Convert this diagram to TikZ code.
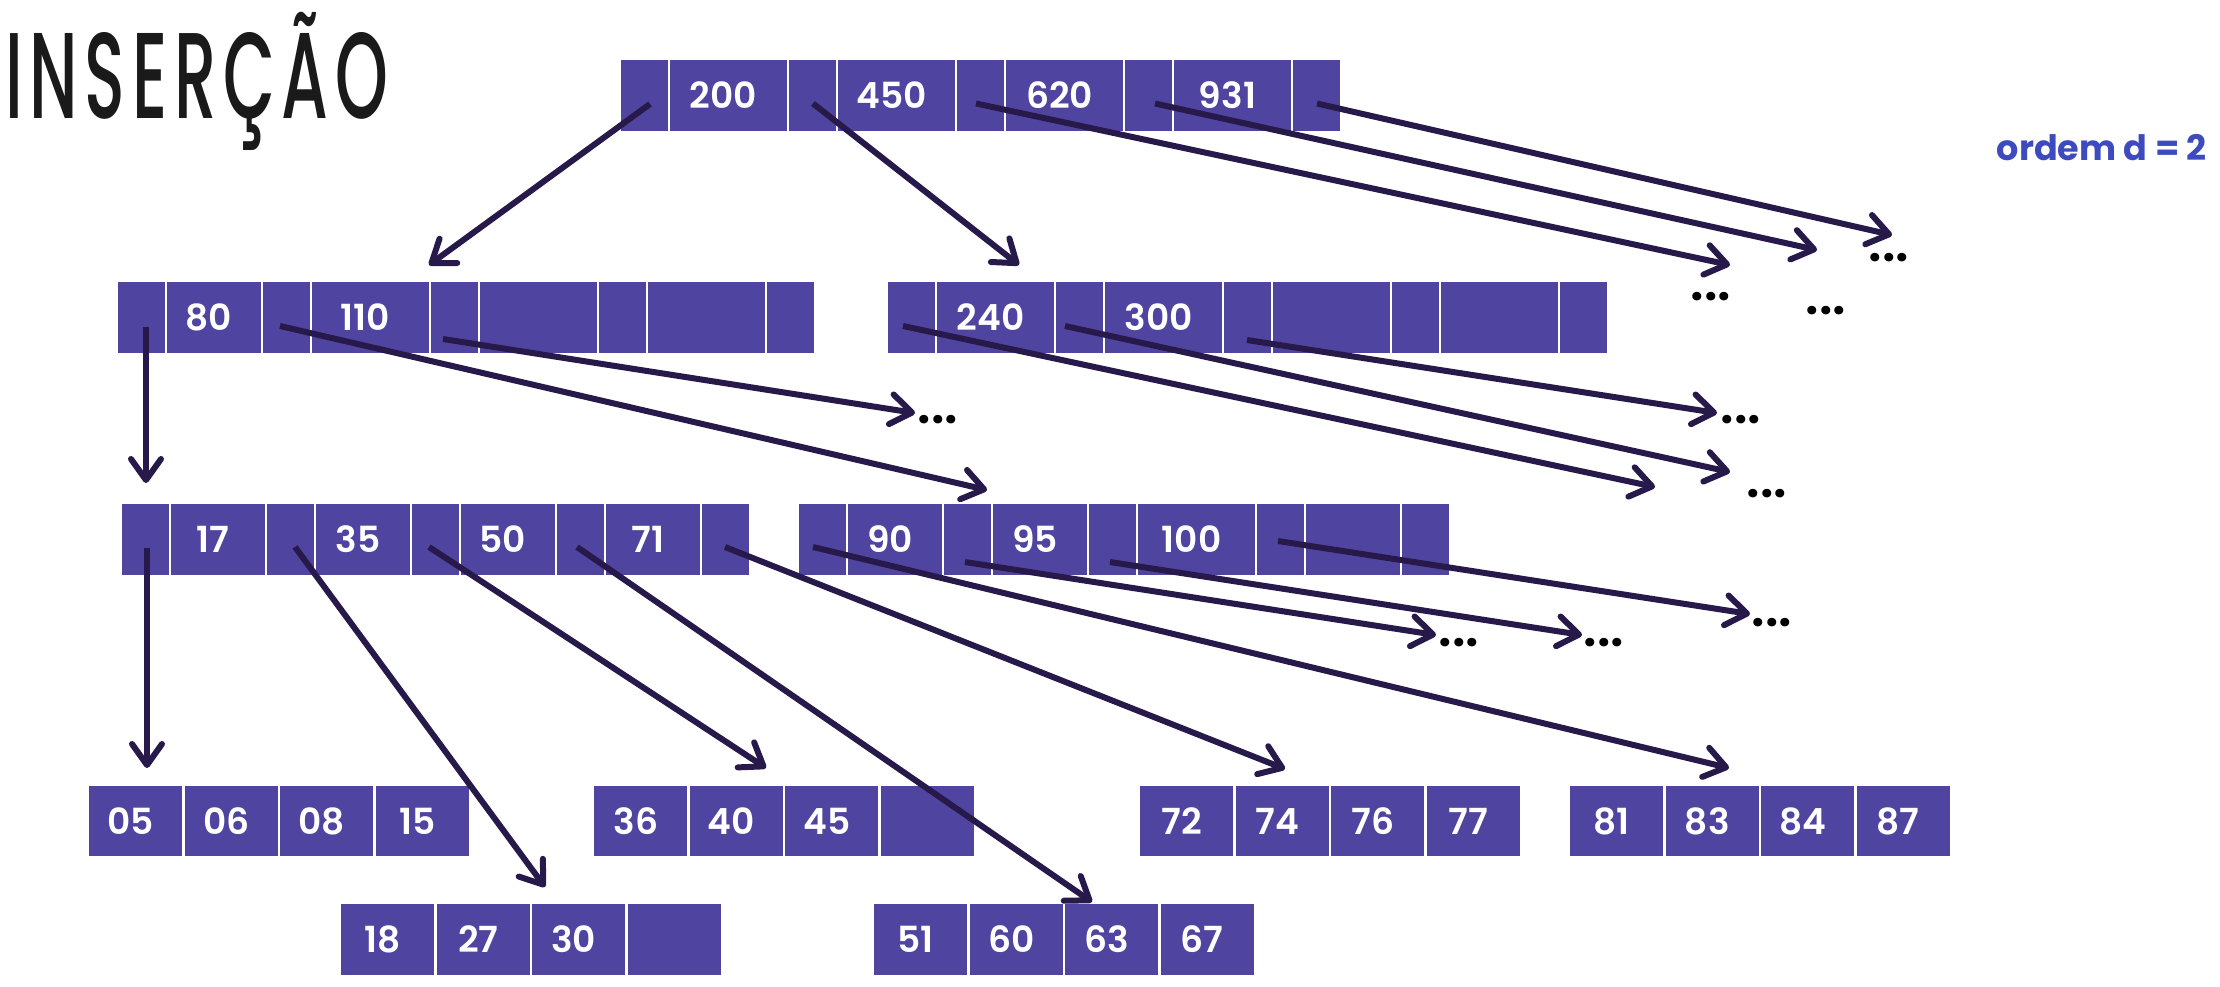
\documentclass[tikz,border=0pt]{standalone}
\usepackage{fontspec}
\usepackage{graphicx}
\usetikzlibrary{arrows.meta,calc}
\newfontfamily\numfont{Poppins SemiBold}
\newfontfamily\boldfont{Poppins Bold}
\newfontfamily\titlefont[LetterSpace=10]{Poppins Medium}
\definecolor{cellc}{RGB}{79,69,160}
\definecolor{arrc}{RGB}{40,25,75}
\definecolor{ordc}{RGB}{62,75,190}
\definecolor{titc}{RGB}{26,26,26}
\tikzset{
  cellbase/.style={draw=white, line width=2.5pt, fill=cellc, minimum height=73pt, inner sep=0pt, outer sep=0pt, anchor=west, text=white, font=\numfont\fontsize{36}{36}\selectfont},
  ptr/.style={cellbase, minimum width=49pt},
  kw/.style={cellbase, minimum width=119pt, execute at begin node={\hspace*{-10pt}}},
  kn/.style={cellbase, minimum width=96pt, execute at begin node={\hspace*{-10pt}}},
  lf/.style={cellbase, minimum width=95.5pt, execute at begin node={\hspace*{-10pt}}},
  link/.style={draw=arrc, line width=6pt, -{Straight Barb[length=21pt,width=30pt,round]}},
  dots/.style={inner sep=0pt, font=\numfont\fontsize{52}{52}\selectfont, text=black},
}
\begin{document}
\begin{tikzpicture}[x=1pt,y=-1pt]
\fill[white] (0,0) rectangle (2220,986);
\useasboundingbox (0,0) rectangle (2220,986);
% title
\node[anchor=base west, inner sep=0pt, text=titc] (title) at (5,118) {\resizebox{383pt}{!}{\scalebox{0.55}[1]{\titlefont\fontsize{124}{124}\selectfont INSERÇÃO}}};
\node[anchor=base east, inner sep=0pt, text=ordc, font=\boldfont\fontsize{35}{35}\selectfont] (ord) at (2207,160) {ordem d = 2};
% root
\node[ptr] (R0) at (620,95.5) {};
\node[kw] (R1) at (R0.east) {200};
\node[ptr] (R2) at (R1.east) {};
\node[kw] (R3) at (R2.east) {450};
\node[ptr] (R4) at (R3.east) {};
\node[kw] (R5) at (R4.east) {620};
\node[ptr] (R6) at (R5.east) {};
\node[kw] (R7) at (R6.east) {931};
\node[ptr] (R8) at (R7.east) {};
% level 2 left
\node[ptr] (A0) at (117,317.5) {};
\node[kn] (A1) at (A0.east) {80};
\node[ptr] (A2) at (A1.east) {};
\node[kw] (A3) at (A2.east) {110};
\node[ptr] (A4) at (A3.east) {};
\node[kw] (A5) at (A4.east) {};
\node[ptr] (A6) at (A5.east) {};
\node[kw] (A7) at (A6.east) {};
\node[ptr] (A8) at (A7.east) {};
% level 2 right
\node[ptr] (B0) at (887,317.5) {};
\node[kw] (B1) at (B0.east) {240};
\node[ptr] (B2) at (B1.east) {};
\node[kw] (B3) at (B2.east) {300};
\node[ptr] (B4) at (B3.east) {};
\node[kw] (B5) at (B4.east) {};
\node[ptr] (B6) at (B5.east) {};
\node[kw] (B7) at (B6.east) {};
\node[ptr] (B8) at (B7.east) {};
% level 3 left
\node[ptr] (C0) at (121,539.5) {};
\node[kn] (C1) at (C0.east) {17};
\node[ptr] (C2) at (C1.east) {};
\node[kn] (C3) at (C2.east) {35};
\node[ptr] (C4) at (C3.east) {};
\node[kn] (C5) at (C4.east) {50};
\node[ptr] (C6) at (C5.east) {};
\node[kn] (C7) at (C6.east) {71};
\node[ptr] (C8) at (C7.east) {};
% level 3 right
\node[ptr] (D0) at (798,539.5) {};
\node[kn] (D1) at (D0.east) {90};
\node[ptr] (D2) at (D1.east) {};
\node[kn] (D3) at (D2.east) {95};
\node[ptr] (D4) at (D3.east) {};
\node[kw] (D5) at (D4.east) {100};
\node[ptr] (D6) at (D5.east) {};
\node[kn] (D7) at (D6.east) {};
\node[ptr] (D8) at (D7.east) {};
% leaves row 4
\node[lf] (LA1) at (88,821) {05};
\node[lf] (LA2) at (LA1.east) {06};
\node[lf] (LA3) at (LA2.east) {08};
\node[lf] (LA4) at (LA3.east) {15};
\node[lf] (LB1) at (593,821) {36};
\node[lf] (LB2) at (LB1.east) {40};
\node[lf] (LB3) at (LB2.east) {45};
\node[lf] (LB4) at (LB3.east) {};
\node[lf] (LC1) at (1139,821) {72};
\node[lf] (LC2) at (LC1.east) {74};
\node[lf] (LC3) at (LC2.east) {76};
\node[lf] (LC4) at (LC3.east) {77};
\node[lf] (LD1) at (1569,821) {81};
\node[lf] (LD2) at (LD1.east) {83};
\node[lf] (LD3) at (LD2.east) {84};
\node[lf] (LD4) at (LD3.east) {87};
% leaves row 5
\node[lf] (LE1) at (340,939.5) {18};
\node[lf] (LE2) at (LE1.east) {27};
\node[lf] (LE3) at (LE2.east) {30};
\node[lf] (LE4) at (LE3.east) {};
\node[lf] (LF1) at (873,939.5) {51};
\node[lf] (LF2) at (LF1.east) {60};
\node[lf] (LF3) at (LF2.east) {63};
\node[lf] (LF4) at (LF3.east) {67};
% ellipses
\node[dots] (dA3) at (1711,297) {...};
\node[dots] (dA4) at (1826,311) {...};
\node[dots] (dA5) at (1889,258) {...};
\node[dots] (dB3) at (938,420) {...};
\node[dots] (dC2) at (1767,494) {...};
\node[dots] (dC3) at (1741,420) {...};
\node[dots] (dE2) at (1459,643) {...};
\node[dots] (dE3) at (1604,643) {...};
\node[dots] (dE4) at (1772,623) {...};
\coordinate (cE1) at (1655,487);
% connectors
\draw[link] ($(R0.center)+(5.5,8.5)$) -- ($(A3.north)+(58.5,-16)$);
\draw[link] ($(R2.center)+(0.5,8)$) -- ($(B1.north)+(23.5,-16)$);
\draw[link] ($(R4.center)+(-4.5,8)$) -- ($(dA3.center)+(19,-32)$);
\draw[link] ($(R6.center)+(6.5,8)$) -- ($(dA4.center)+(-9,-61)$);
\draw[link] ($(R8.center)+(0.5,8)$) -- ($(dA5.center)+(3,-23)$);
\draw[link] ($(A0.center)+(4.5,9.5)$) -- ($(C0.north)+(0.5,-20)$);
\draw[link] ($(A2.center)+(-6.5,8.5)$) -- ($(D2.north)+(19.5,-13)$);
\draw[link] ($(A4.center)+(-11.5,21.5)$) -- ($(dB3.center)+(-23,-7)$);
\draw[link] ($(B0.center)+(-8.5,8.5)$) -- (cE1);
\draw[link] ($(B2.center)+(-14.5,8.5)$) -- ($(dC2.center)+(-37,-22)$);
\draw[link] ($(B4.center)+(-0.5,22.5)$) -- ($(dC3.center)+(-24,-7)$);
\draw[link] ($(C0.center)+(1.5,8.5)$) -- ($(LA1.north)+(11.25,-16.5)$);
\draw[link] ($(C2.center)+(4.5,7.5)$) -- ($(LE3.north)+(-33.75,-16)$);
\draw[link] ($(C4.center)+(-6.5,7.5)$) -- ($(LB2.north)+(29.75,-16.5)$);
\draw[link] ($(C6.center)+(-3.5,7.5)$) -- ($(LF3.north)+(-19.75,-1)$);
\draw[link] ($(C8.center)+(-0.5,7.5)$) -- ($(LC2.north)+(2.75,-15.5)$);
\draw[link] ($(D0.center)+(-9.5,7.5)$) -- ($(LD2.north)+(16.75,-16.5)$);
\draw[link] ($(D2.center)+(-2.5,22.5)$) -- ($(dE2.center)+(-23,-8)$);
\draw[link] ($(D4.center)+(-2.5,22.5)$) -- ($(dE3.center)+(-22,-8)$);
\draw[link] ($(D6.center)+(-2.5,1.5)$) -- ($(dE4.center)+(-22,-9)$);
\end{tikzpicture}
\end{document}
